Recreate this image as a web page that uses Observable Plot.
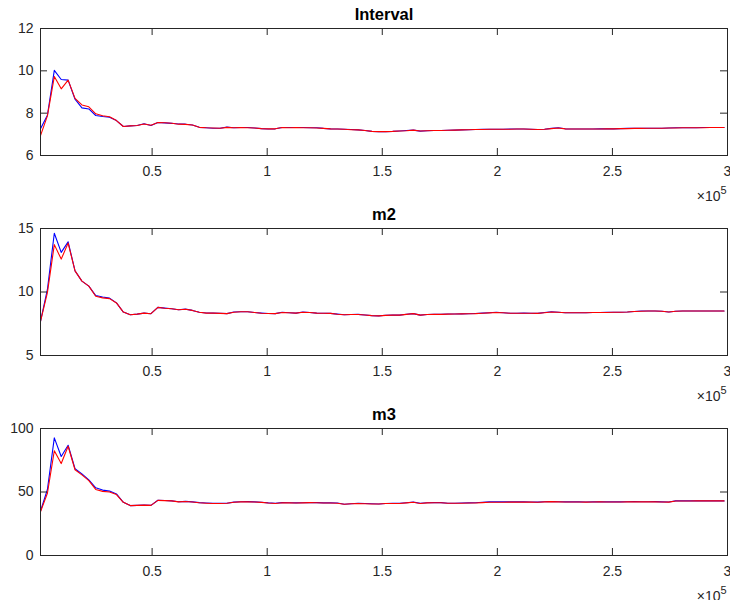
<!DOCTYPE html>
<html><head><meta charset="utf-8">
<script src="https://cdn.jsdelivr.net/npm/d3@7"></script>
<script src="https://cdn.jsdelivr.net/npm/@observablehq/plot@0.6"></script>
<style>
body{margin:0;background:#fff;}
#chart svg{display:block;overflow:visible !important;}
</style></head><body><div id="chart"></div>
<script>
// sample positions (x), 100 samples
const xValues = d3.range(100).map(i => 1500 + 3000 * i);

const intervalBlue = [7.26,7.90,10.02,9.59,9.56,8.66,8.25,8.20,7.89,7.84,7.81,7.65,7.37,7.40,7.42,7.50,7.42,7.56,7.54,7.52,
7.49,7.48,7.44,7.33,7.31,7.29,7.29,7.34,7.31,7.32,7.32,7.30,7.27,7.25,7.26,7.32,7.32,7.32,7.32,7.31,
7.31,7.28,7.26,7.25,7.24,7.23,7.21,7.18,7.14,7.12,7.13,7.14,7.16,7.18,7.20,7.15,7.17,7.18,7.18,7.19,
7.20,7.21,7.22,7.23,7.24,7.24,7.24,7.24,7.25,7.25,7.25,7.24,7.23,7.24,7.28,7.31,7.26,7.25,7.25,7.25,
7.25,7.26,7.26,7.26,7.27,7.28,7.28,7.29,7.29,7.29,7.29,7.30,7.31,7.31,7.31,7.31,7.32,7.32,7.32,7.32];
const intervalRed = [6.94,7.87,9.73,9.15,9.56,8.70,8.39,8.30,7.97,7.88,7.83,7.65,7.37,7.40,7.42,7.49,7.43,7.56,7.55,7.52,
7.48,7.47,7.44,7.33,7.31,7.30,7.29,7.33,7.31,7.32,7.31,7.30,7.27,7.26,7.26,7.32,7.31,7.32,7.31,7.31,
7.30,7.28,7.26,7.25,7.24,7.22,7.21,7.18,7.14,7.13,7.13,7.14,7.16,7.17,7.20,7.16,7.17,7.18,7.18,7.19,
7.20,7.21,7.22,7.23,7.23,7.24,7.24,7.24,7.24,7.25,7.25,7.24,7.23,7.24,7.27,7.30,7.26,7.25,7.25,7.25,
7.25,7.25,7.26,7.26,7.27,7.27,7.28,7.28,7.29,7.29,7.29,7.30,7.30,7.31,7.31,7.31,7.31,7.32,7.32,7.32];

const m2Blue = [7.68,10.20,14.63,13.12,13.95,11.66,10.86,10.46,9.72,9.60,9.52,9.14,8.42,8.21,8.26,8.34,8.29,8.79,8.73,8.68,
8.60,8.65,8.55,8.40,8.35,8.34,8.33,8.30,8.42,8.44,8.45,8.38,8.34,8.31,8.30,8.40,8.37,8.34,8.42,8.38,
8.34,8.33,8.32,8.26,8.21,8.23,8.24,8.19,8.14,8.12,8.17,8.18,8.18,8.25,8.30,8.18,8.23,8.24,8.24,8.27,
8.27,8.28,8.29,8.31,8.34,8.37,8.40,8.37,8.33,8.33,8.34,8.33,8.32,8.38,8.44,8.41,8.37,8.37,8.37,8.37,
8.38,8.39,8.40,8.40,8.40,8.42,8.47,8.50,8.50,8.50,8.48,8.43,8.49,8.50,8.50,8.50,8.50,8.50,8.50,8.50];
const m2Red = [7.68,9.95,13.73,12.59,13.85,11.66,10.86,10.46,9.67,9.54,9.48,9.14,8.42,8.21,8.26,8.34,8.29,8.79,8.72,8.68,
8.60,8.64,8.55,8.40,8.34,8.34,8.32,8.30,8.41,8.44,8.44,8.38,8.33,8.31,8.30,8.39,8.37,8.34,8.41,8.38,
8.34,8.33,8.32,8.25,8.21,8.23,8.23,8.19,8.14,8.12,8.16,8.18,8.18,8.24,8.30,8.18,8.23,8.24,8.24,8.26,
8.27,8.28,8.29,8.30,8.33,8.36,8.39,8.37,8.33,8.33,8.33,8.33,8.32,8.37,8.43,8.41,8.37,8.37,8.37,8.37,
8.38,8.39,8.39,8.40,8.40,8.42,8.46,8.49,8.50,8.50,8.48,8.43,8.49,8.50,8.50,8.50,8.50,8.50,8.50,8.50];

const m3Blue = [35.0,52.0,92.6,78.0,86.8,68.3,64.3,59.6,53.3,51.5,50.7,48.5,41.9,39.3,39.5,39.8,39.5,43.5,43.3,43.0,
42.3,42.6,42.2,41.6,41.3,41.1,41.1,41.1,42.0,42.3,42.4,42.2,41.9,41.4,41.1,41.6,41.5,41.4,41.5,41.7,
41.6,41.4,41.4,41.3,40.4,40.8,41.1,40.9,40.7,40.6,41.0,41.1,41.1,41.5,42.0,41.1,41.5,41.6,41.6,41.2,
41.2,41.3,41.4,41.5,41.9,42.2,42.2,42.2,42.2,42.2,42.2,42.1,42.0,42.3,42.5,42.3,42.2,42.2,42.2,42.1,
42.2,42.3,42.2,42.2,42.2,42.3,42.4,42.3,42.3,42.4,42.2,42.1,43.0,43.0,43.0,43.0,43.0,43.0,43.0,43.0];
const m3Red = [34.5,49.0,82.5,72.4,86.0,67.5,63.5,59.0,52.0,50.5,50.0,48.0,41.9,39.3,39.5,39.7,39.5,43.4,43.2,43.0,
42.2,42.5,42.1,41.5,41.2,41.0,41.0,41.1,41.9,42.2,42.3,42.1,41.8,41.3,41.0,41.5,41.4,41.3,41.4,41.6,
41.5,41.3,41.3,41.2,40.3,40.7,41.0,40.8,40.6,40.5,40.9,41.0,41.0,41.4,41.9,41.0,41.4,41.5,41.5,41.1,
41.1,41.2,41.3,41.3,41.6,41.9,41.9,41.9,42.0,42.0,42.0,42.0,41.9,42.2,42.4,42.2,42.1,42.1,42.1,42.0,
42.1,42.2,42.1,42.1,42.1,42.2,42.3,42.2,42.2,42.3,42.1,42.0,42.9,42.9,42.9,43.0,43.0,43.0,43.0,43.0];

const titles = ["Interval", "m2", "m3"];
const yDomains = [[6, 12], [5, 15], [0, 100]];
const yTicks = [[6, 8, 10, 12], [5, 10, 15], [0, 50, 100]];
const xTicks = [50000, 100000, 150000, 200000, 250000, 300000];
const xTickLabels = ["0.5", "1", "1.5", "2", "2.5", "3"];
const exponentBase = "×10";
const exponentPower = "5";

const blues = [intervalBlue, m2Blue, m3Blue];
const reds = [intervalRed, m2Red, m3Red];

const W = 730, H = 200, MT = 28, MB = 45, ML = 40, MR = 3;
const PH = H - MT - MB, PW = W - ML - MR;
const AX = "#262626";
const FONT = "'Liberation Sans', Arial, Helvetica, sans-serif";

function panel(k) {
  const rows = xValues.map((x, i) => ({x, b: blues[k][i], r: reds[k][i]}));
  const svg = Plot.plot({
    width: W, height: H,
    marginTop: MT, marginBottom: MB, marginLeft: ML, marginRight: MR,
    style: {fontFamily: FONT, fontSize: "14px", color: AX, background: "white", overflow: "visible"},
    x: {domain: [1500, 300000], label: null},
    y: {domain: yDomains[k], label: null},
    marks: [
      Plot.line(rows, {x: "x", y: "b", stroke: "#0000ff", strokeWidth: 1.1}),
      Plot.line(rows, {x: "x", y: "r", stroke: "#ff0000", strokeWidth: 1.1}),
      Plot.tickX(xTicks, {x: d => d, insetTop: PH - 7, stroke: AX}),
      Plot.tickX(xTicks, {x: d => d, insetBottom: PH - 7, stroke: AX}),
      Plot.tickY(yTicks[k], {y: d => d, insetRight: PW - 7, stroke: AX}),
      Plot.tickY(yTicks[k], {y: d => d, insetLeft: PW - 7, stroke: AX}),
      Plot.frame({stroke: AX}),
      Plot.axisX(xTicks, {tickSize: 0, tickPadding: 11, label: null, fontSize: 14,
        tickFormat: d => xTickLabels[xTicks.indexOf(d)]}),
      Plot.axisY(yTicks[k], {tickSize: 0, tickPadding: 7, label: null, fontSize: 14}),
      Plot.text([titles[k]], {text: d => d, frameAnchor: "top", lineAnchor: "middle", dy: -14, fontWeight: "bold", fontSize: 16.5, fill: "#000"}),
      Plot.text([exponentBase], {text: d => d, frameAnchor: "bottom-right", lineAnchor: "middle", textAnchor: "end", dx: -7, dy: 41.5, fontSize: 14, fill: AX}),
      Plot.text([exponentPower], {text: d => d, frameAnchor: "bottom-right", lineAnchor: "middle", textAnchor: "start", dx: -7, dy: 34.5, fontSize: 11, fill: AX})
    ]
  });
  return svg;
}

const root = document.getElementById("chart");
for (let k = 0; k < 3; k++) root.append(panel(k));
</script>
</body></html>
